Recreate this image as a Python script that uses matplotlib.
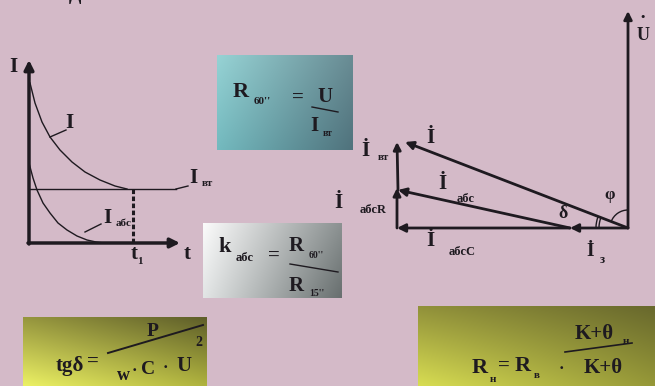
import numpy as np
import matplotlib
matplotlib.use("Agg")
import matplotlib.pyplot as plt
from matplotlib.patches import Arc

# curve points (pixel coords, y down)
curve_i_x = [30, 35, 42, 50, 60, 72, 85, 100, 115, 127]
curve_i_y = [83, 103, 122, 137, 150, 162, 172, 180, 186, 189]
curve_abs_x = [29, 33, 37, 43, 50, 58, 67, 77, 87, 96, 104]
curve_abs_y = [163, 178, 190, 203, 213, 223, 230, 236, 240, 242, 243]
i_vt_level = 189
t1_x = 133

# phasor end points
origin = (628, 228)
u_tip = (628, 11)
iz_tip = (570, 228)
i_tip = (405, 142)
iabs_tip = (398, 190)
iabsc_tip = (397, 228)

BG = (212/255, 186/255, 200/255)
INK = "#1e1a20"
FONT = "Liberation Serif"

fig = plt.figure(figsize=(6.55, 3.86), dpi=100, facecolor=BG)
ax = fig.add_axes([0, 0, 1, 1])
ax.set_facecolor(BG)


def grad_box(x0, y0, x1, y1, tl, tr, bl, br):
    n = 40
    u = np.linspace(0, 1, n)[None, :, None]
    v = np.linspace(0, 1, n)[:, None, None]
    tl, tr, bl, br = [np.array(c)[None, None, :] / 255 for c in (tl, tr, bl, br)]
    img = (1 - v) * ((1 - u) * tl + u * tr) + v * ((1 - u) * bl + u * br)
    ax.imshow(img, extent=(x0, x1, y1, y0), interpolation="bilinear",
              aspect="auto", zorder=1)


def txt(x, y, s, size=15, **kw):
    ax.text(x, y, s, fontsize=size, fontfamily=FONT, fontweight="bold",
            color=INK, ha="center", va="center", zorder=5, **kw)


def arrow(tail, tip, lw=2.0, ms=12):
    ax.annotate("", xy=tip, xytext=tail,
                arrowprops=dict(arrowstyle="-|>", lw=lw, color=INK,
                                mutation_scale=ms, shrinkA=0, shrinkB=0),
                zorder=4)


# boxes with gradients
grad_box(217, 55, 353, 150, (150, 210, 212), (105, 140, 148), (115, 185, 190), (80, 115, 125))
grad_box(203, 223, 342, 298, (250, 250, 250), (140, 146, 146), (225, 228, 228), (105, 112, 112))
grad_box(23, 317, 207, 386, (150, 150, 62), (95, 95, 42), (235, 240, 100), (175, 178, 62))
grad_box(418, 306, 655, 386, (145, 145, 58), (105, 105, 45), (215, 220, 82), (150, 152, 56))

# ---- left graph ----
arrow((29, 244), (29, 60), lw=2.5, ms=14)
arrow((28, 243), (180, 243), lw=2.5, ms=14)
ax.plot(curve_i_x, curve_i_y, color=INK, lw=1.0, zorder=3)
ax.plot(curve_abs_x, curve_abs_y, color=INK, lw=1.0, zorder=3)
ax.plot([29, 176], [i_vt_level, i_vt_level], color=INK, lw=1.0, zorder=3)
ax.plot([176, 188], [i_vt_level, 186], color=INK, lw=1.0, zorder=3)
ax.plot([t1_x, t1_x], [i_vt_level, 243], color=INK, lw=2.2,
        ls=(0, (1.5, 0.8)), zorder=3)
ax.plot([50, 66], [137, 130], color=INK, lw=1.0, zorder=3)
ax.plot([85, 101], [232, 224], color=INK, lw=1.0, zorder=3)

txt(13, 67, "I", 15)
txt(187, 254, "t", 15)
txt(134, 254, "t", 15)
txt(140, 261, "1", 8)
txt(69, 123, "I", 15)
txt(193, 178, "I", 15)
txt(207, 184, "вт", 8)
txt(107, 218, "I", 15)
txt(124, 223, "абс", 8)
ax.text(75, -4, "Д", fontsize=13, fontfamily=FONT, fontweight="bold",
        color=INK, ha="center", va="center", zorder=5)

# ---- box 1 ----
txt(241, 92, "R", 16)
txt(262, 102, "60''", 8)
txt(298, 98, "=", 15)
txt(325, 97, "U", 15)
ax.plot([312, 338], [107, 112], color=INK, lw=1.0, zorder=5)
txt(314, 126, "I", 15)
txt(328, 134, "вт", 7)

# ---- box 2 ----
txt(225, 247, "k", 16)
txt(245, 258, "абс", 9)
txt(274, 256, "=", 15)
txt(296, 246, "R", 15)
txt(316, 256, "60''", 7)
ax.plot([290, 338], [264, 272], color=INK, lw=1.0, zorder=5)
txt(296, 286, "R", 15)
txt(317, 293, "15''", 7)

# ---- box 3 ----
txt(70, 366, "tgδ", 15)
txt(93, 362, "=", 15)
ax.plot([108, 203], [353, 325], color=INK, lw=1.4, zorder=5)
txt(153, 332, "P", 14)
txt(123, 375, "w", 13)
txt(134, 371, "·", 12)
txt(148, 369, "C", 14)
txt(165, 368, "·", 12)
txt(184, 366, "U", 15)
txt(199, 343, "2", 10)

# ---- box 4 ----
txt(480, 368, "R", 16)
txt(493, 379, "н", 8)
txt(504, 366, "=", 15)
txt(523, 366, "R", 16)
txt(537, 375, "в", 8)
txt(561, 369, "·", 12)
txt(594, 334, "K+θ", 15)
txt(626, 341, "н", 8)
ax.plot([565, 632], [352, 343], color=INK, lw=1.2, zorder=5)
txt(603, 368, "K+θ", 15)

# ---- phasor diagram ----
arrow(origin, u_tip, lw=2.0, ms=12)
arrow(origin, iz_tip, lw=2.0, ms=12)
arrow(iz_tip, iabsc_tip, lw=2.0, ms=12)
arrow(origin, i_tip, lw=2.0, ms=12)
arrow(iz_tip, iabs_tip, lw=2.0, ms=12)
arrow(iabsc_tip, (iabsc_tip[0], iabs_tip[1] - 2), lw=2.0, ms=11)
arrow(iabs_tip, (iabsc_tip[0], i_tip[1]), lw=2.0, ms=11)
# y axis is inverted, so angles run clockwise on screen
ax.add_patch(Arc(origin, 36, 36, theta1=201, theta2=270, color=INK, lw=1.0, zorder=4))
ax.add_patch(Arc(origin, 58, 58, theta1=180, theta2=201, color=INK, lw=1.0, zorder=4))
ax.add_patch(Arc(origin, 64, 64, theta1=180, theta2=201, color=INK, lw=1.0, zorder=4))

txt(643, 35, "U", 13)
txt(643, 19, "·", 14)
txt(610, 195, "φ", 12)
txt(563, 214, "δ", 13)
txt(590, 252, "İ", 14)
txt(602, 260, "з", 9)
txt(365, 151, "İ", 15)
txt(383, 157, "вт", 8)
txt(430, 138, "İ", 15)
txt(442, 184, "İ", 15)
txt(466, 199, "абс", 9)
txt(338, 203, "İ", 15)
txt(373, 210, "абсR", 9)
txt(430, 241, "İ", 15)
txt(462, 252, "абсC", 9)

ax.set_xlim(0, 655)
ax.set_ylim(386, 0)
ax.axis("off")
fig.savefig("out.png", dpi=100, facecolor=BG)
